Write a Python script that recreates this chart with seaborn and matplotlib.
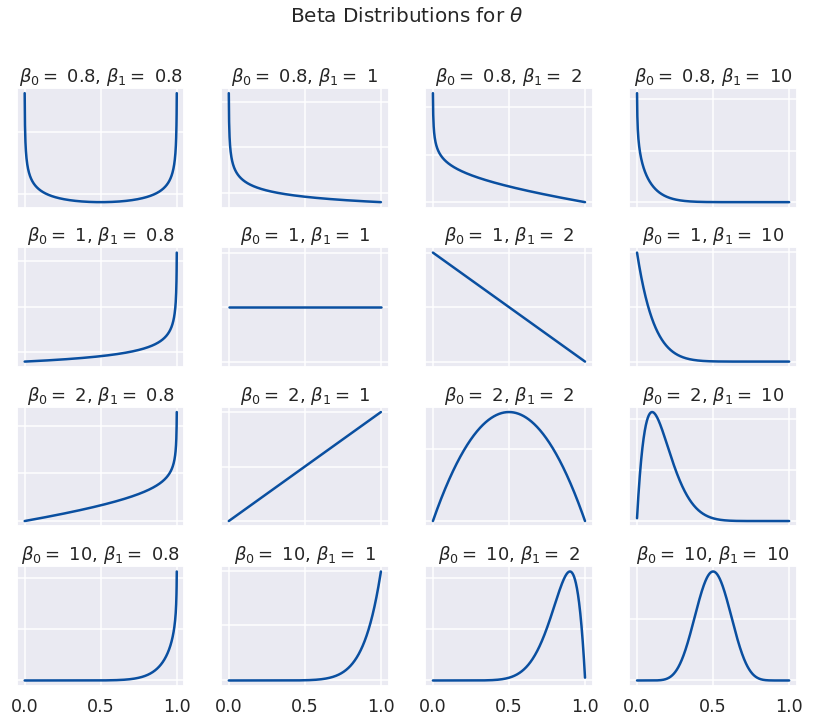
import math
import numpy as np
import pandas as pd
import seaborn as sns
import matplotlib
matplotlib.use("Agg")
import matplotlib.pyplot as plt

# Parameters of the Beta distributions (rows: beta_0, columns: beta_1)
beta0_values = [0.8, 1, 2, 10]
beta1_values = [0.8, 1, 2, 10]
x_start, x_stop, n_points = 0.001, 0.999, 999
xtick_values = [0.0, 0.5, 1.0]
suptitle = r"Beta Distributions for $\theta$"
line_color = "#0a4fa0"

sns.set_theme(style="darkgrid", context="talk")

theta = np.linspace(x_start, x_stop, n_points)


def beta_pdf(x, a, b):
    log_b = math.lgamma(a) + math.lgamma(b) - math.lgamma(a + b)
    return np.exp((a - 1) * np.log(x) + (b - 1) * np.log1p(-x) - log_b)


def fmt(v):
    return f"{v:g}"


dpi = 72
fig, axes = plt.subplots(4, 4, figsize=(813 / dpi, 719 / dpi), dpi=dpi, sharex=True)
fig.subplots_adjust(left=0.021, right=0.980, top=0.878, bottom=0.046,
                    wspace=0.22, hspace=0.33)

for i, a in enumerate(beta0_values):
    for j, b in enumerate(beta1_values):
        ax = axes[i, j]
        df = pd.DataFrame({"theta": theta, "density": beta_pdf(theta, a, b)})
        sns.lineplot(data=df, x="theta", y="density", ax=ax, color=line_color,
                     linewidth=2.5)
        ax.set_title(rf"$\beta_0 = $ {fmt(a)}, $\beta_1 = $ {fmt(b)}", fontsize=18)
        ax.set_xlabel("")
        ax.set_ylabel("")
        ax.set_yticklabels([])
        ax.set_xticks(xtick_values)
        ax.tick_params(axis="x", labelsize=17.5)

fig.suptitle(suptitle, fontsize=20, y=0.99)
fig.savefig("out.png", dpi=dpi)
